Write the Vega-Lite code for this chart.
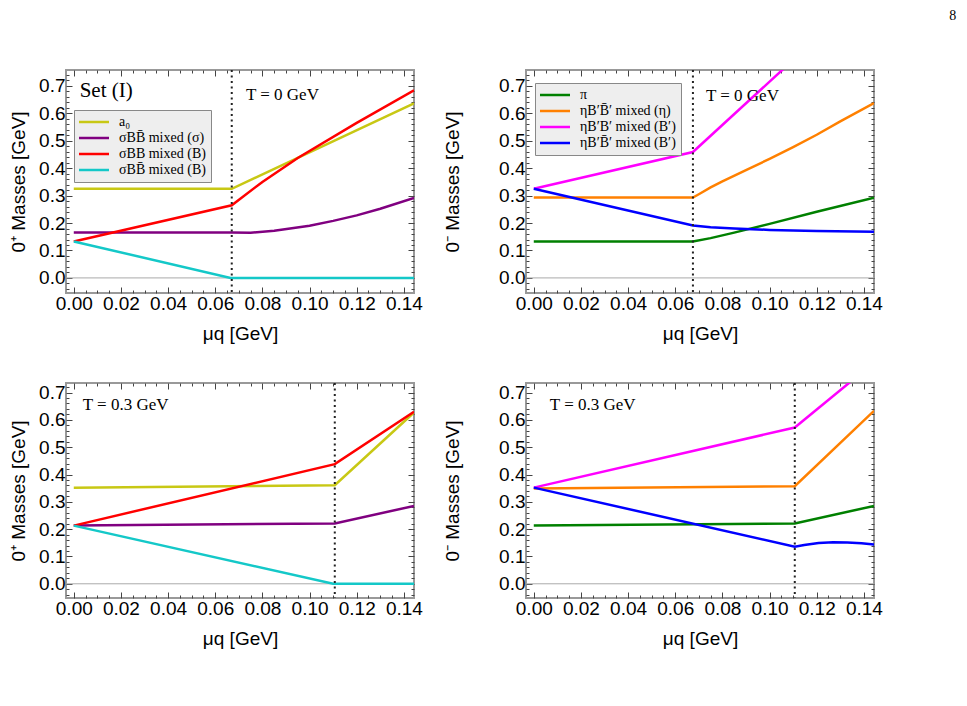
{
  "$schema": "https://vega.github.io/schema/vega-lite/v6.json",
  "padding": {"left": 8, "top": 8, "right": 5, "bottom": 5},
  "title": {"text": "8", "anchor": "end", "font": "Liberation Serif", "fontSize": 14, "fontWeight": "normal", "color": "#000000", "dx": 73, "offset": 42},
  "datasets": {
    "tl": [
      {"s": "a₀", "mu": 0, "m": 0.325}, {"s": "a₀", "mu": 0.067, "m": 0.325}, {"s": "a₀", "mu": 0.1443, "m": 0.636},
      {"s": "σBB̄ mixed (σ)", "mu": 0, "m": 0.166}, {"s": "σBB̄ mixed (σ)", "mu": 0.067, "m": 0.166}, {"s": "σBB̄ mixed (σ)", "mu": 0.075, "m": 0.165}, {"s": "σBB̄ mixed (σ)", "mu": 0.085, "m": 0.172}, {"s": "σBB̄ mixed (σ)", "mu": 0.1, "m": 0.19}, {"s": "σBB̄ mixed (σ)", "mu": 0.11, "m": 0.208}, {"s": "σBB̄ mixed (σ)", "mu": 0.12, "m": 0.228}, {"s": "σBB̄ mixed (σ)", "mu": 0.13, "m": 0.252}, {"s": "σBB̄ mixed (σ)", "mu": 0.1443, "m": 0.292},
      {"s": "σBB mixed (B)", "mu": 0, "m": 0.133}, {"s": "σBB mixed (B)", "mu": 0.067, "m": 0.265}, {"s": "σBB mixed (B)", "mu": 0.08, "m": 0.35}, {"s": "σBB mixed (B)", "mu": 0.095, "m": 0.437}, {"s": "σBB mixed (B)", "mu": 0.12, "m": 0.565}, {"s": "σBB mixed (B)", "mu": 0.1443, "m": 0.684},
      {"s": "σBB̄ mixed (B)", "mu": 0, "m": 0.133}, {"s": "σBB̄ mixed (B)", "mu": 0.0665, "m": 0}, {"s": "σBB̄ mixed (B)", "mu": 0.1443, "m": 0}
    ],
    "tr": [
      {"s": "π", "mu": 0, "m": 0.133}, {"s": "π", "mu": 0.0675, "m": 0.133}, {"s": "π", "mu": 0.075, "m": 0.145}, {"s": "π", "mu": 0.085, "m": 0.165}, {"s": "π", "mu": 0.1, "m": 0.197}, {"s": "π", "mu": 0.12, "m": 0.241}, {"s": "π", "mu": 0.1443, "m": 0.292},
      {"s": "ηB′B̄′ mixed (η)", "mu": 0, "m": 0.293}, {"s": "ηB′B̄′ mixed (η)", "mu": 0.0675, "m": 0.293}, {"s": "ηB′B̄′ mixed (η)", "mu": 0.07, "m": 0.305}, {"s": "ηB′B̄′ mixed (η)", "mu": 0.075, "m": 0.33}, {"s": "ηB′B̄′ mixed (η)", "mu": 0.08, "m": 0.352}, {"s": "ηB′B̄′ mixed (η)", "mu": 0.09, "m": 0.393}, {"s": "ηB′B̄′ mixed (η)", "mu": 0.1, "m": 0.434}, {"s": "ηB′B̄′ mixed (η)", "mu": 0.11, "m": 0.477}, {"s": "ηB′B̄′ mixed (η)", "mu": 0.12, "m": 0.522}, {"s": "ηB′B̄′ mixed (η)", "mu": 0.13, "m": 0.571}, {"s": "ηB′B̄′ mixed (η)", "mu": 0.1443, "m": 0.637},
      {"s": "ηB′B′ mixed (B′)", "mu": 0, "m": 0.325}, {"s": "ηB′B′ mixed (B′)", "mu": 0.0675, "m": 0.459}, {"s": "ηB′B′ mixed (B′)", "mu": 0.105, "m": 0.755}, {"s": "ηB′B′ mixed (B′)", "mu": 0.12, "m": 0.87},
      {"s": "ηB′B̄′ mixed (B′)", "mu": 0, "m": 0.325}, {"s": "ηB′B̄′ mixed (B′)", "mu": 0.0675, "m": 0.191}, {"s": "ηB′B̄′ mixed (B′)", "mu": 0.075, "m": 0.185}, {"s": "ηB′B̄′ mixed (B′)", "mu": 0.085, "m": 0.18}, {"s": "ηB′B̄′ mixed (B′)", "mu": 0.1, "m": 0.175}, {"s": "ηB′B̄′ mixed (B′)", "mu": 0.12, "m": 0.171}, {"s": "ηB′B̄′ mixed (B′)", "mu": 0.1443, "m": 0.168}
    ],
    "bl": [
      {"s": "a₀", "mu": 0, "m": 0.352}, {"s": "a₀", "mu": 0.1107, "m": 0.361}, {"s": "a₀", "mu": 0.1443, "m": 0.627},
      {"s": "σBB̄ mixed (σ)", "mu": 0, "m": 0.213}, {"s": "σBB̄ mixed (σ)", "mu": 0.1107, "m": 0.221}, {"s": "σBB̄ mixed (σ)", "mu": 0.1443, "m": 0.285},
      {"s": "σBB mixed (B)", "mu": 0, "m": 0.213}, {"s": "σBB mixed (B)", "mu": 0.1107, "m": 0.438}, {"s": "σBB mixed (B)", "mu": 0.1443, "m": 0.63},
      {"s": "σBB̄ mixed (B)", "mu": 0, "m": 0.213}, {"s": "σBB̄ mixed (B)", "mu": 0.11, "m": 0}, {"s": "σBB̄ mixed (B)", "mu": 0.1443, "m": 0}
    ],
    "br": [
      {"s": "π", "mu": 0, "m": 0.213}, {"s": "π", "mu": 0.1107, "m": 0.221}, {"s": "π", "mu": 0.1443, "m": 0.285},
      {"s": "ηB′B̄′ mixed (η)", "mu": 0, "m": 0.349}, {"s": "ηB′B̄′ mixed (η)", "mu": 0.1107, "m": 0.357}, {"s": "ηB′B̄′ mixed (η)", "mu": 0.1443, "m": 0.633},
      {"s": "ηB′B′ mixed (B′)", "mu": 0, "m": 0.352}, {"s": "ηB′B′ mixed (B′)", "mu": 0.1107, "m": 0.572}, {"s": "ηB′B′ mixed (B′)", "mu": 0.1443, "m": 0.81},
      {"s": "ηB′B̄′ mixed (B′)", "mu": 0, "m": 0.352}, {"s": "ηB′B̄′ mixed (B′)", "mu": 0.1107, "m": 0.136}, {"s": "ηB′B̄′ mixed (B′)", "mu": 0.1147, "m": 0.142}, {"s": "ηB′B̄′ mixed (B′)", "mu": 0.1208, "m": 0.149}, {"s": "ηB′B̄′ mixed (B′)", "mu": 0.127, "m": 0.152}, {"s": "ηB′B̄′ mixed (B′)", "mu": 0.133, "m": 0.151}, {"s": "ηB′B̄′ mixed (B′)", "mu": 0.139, "m": 0.148}, {"s": "ηB′B̄′ mixed (B′)", "mu": 0.1443, "m": 0.144}
    ]
  },
  "columns": 2,
  "spacing": {"row": 90, "column": 112},
  "bounds": "flush",
  "resolve": {"scale": {"x": "independent", "y": "independent", "color": "independent"}, "legend": {"color": "independent"}},
  "concat": [
    {
      "width": 348, "height": 223,
      "resolve": {"axis": {"x": "independent", "y": "independent"}},
      "layer": [
        {
          "data": {"values": [{"z": 0}]},
          "mark": {"type": "rule", "color": "#aaaaaa", "strokeWidth": 1},
          "encoding": {"y": {"field": "z", "type": "quantitative", "scale": {"domain": [-0.055, 0.758], "nice": false, "zero": false},
            "axis": {"orient": "right", "labels": false, "title": null, "values": [-0.04,-0.02,0,0.02,0.04,0.06,0.08,0.1,0.12,0.14,0.16,0.18,0.2,0.22,0.24,0.26,0.28,0.3,0.32,0.34,0.36,0.38,0.4,0.42,0.44,0.46,0.48,0.5,0.52,0.54,0.56,0.58,0.6,0.62,0.64,0.66,0.68,0.7,0.72,0.74],
              "tickSize": {"condition": {"test": "abs(datum.value*10 - round(datum.value*10)) < 0.001", "value": -6}, "value": -3}}}}
        },
        {
          "data": {"name": "tl"},
          "mark": {"type": "line", "strokeWidth": 2.5, "clip": true},
          "encoding": {
            "x": {"field": "mu", "type": "quantitative", "scale": {"domain": [-0.0033, 0.1443], "nice": false, "zero": false},
              "axis": {"orient": "bottom", "title": "μq [GeV]", "values": [0,0.005,0.01,0.015,0.02,0.025,0.03,0.035,0.04,0.045,0.05,0.055,0.06,0.065,0.07,0.075,0.08,0.085,0.09,0.095,0.1,0.105,0.11,0.115,0.12,0.125,0.13,0.135,0.14],
                "labelExpr": "abs(datum.value*50 - round(datum.value*50)) < 0.001 ? format(datum.value, '.2f') : ''",
                "tickSize": {"condition": {"test": "abs(datum.value*50 - round(datum.value*50)) < 0.001", "value": -6}, "value": -3}}},
            "y": {"field": "m", "type": "quantitative", "scale": {"domain": [-0.055, 0.758], "nice": false, "zero": false},
              "axis": {"orient": "left", "title": "0⁺ Masses [GeV]", "titlePadding": 10, "values": [-0.04,-0.02,0,0.02,0.04,0.06,0.08,0.1,0.12,0.14,0.16,0.18,0.2,0.22,0.24,0.26,0.28,0.3,0.32,0.34,0.36,0.38,0.4,0.42,0.44,0.46,0.48,0.5,0.52,0.54,0.56,0.58,0.6,0.62,0.64,0.66,0.68,0.7,0.72,0.74],
                "labelExpr": "abs(datum.value*10 - round(datum.value*10)) < 0.001 && datum.value >= 0 ? format(datum.value, '.1f') : ''",
                "tickSize": {"condition": {"test": "abs(datum.value*10 - round(datum.value*10)) < 0.001", "value": -6}, "value": -3}}},
            "color": {"field": "s", "type": "nominal",
              "scale": {"domain": ["a₀", "σBB̄ mixed (σ)", "σBB mixed (B)", "σBB̄ mixed (B)"], "range": ["#c8c814", "#800080", "#ff0000", "#14c8c8"]},
              "legend": {"orient": "none", "legendX": 8, "legendY": 40}}
          }
        },
        {
          "data": {"values": [{"c": 0.067}]},
          "mark": {"type": "rule", "color": "#222222", "strokeWidth": 2, "strokeDash": [2, 3.5]},
          "encoding": {"x": {"field": "c", "type": "quantitative", "scale": {"domain": [-0.0033, 0.1443], "nice": false, "zero": false},
            "axis": {"orient": "top", "labels": false, "title": null, "values": [0,0.005,0.01,0.015,0.02,0.025,0.03,0.035,0.04,0.045,0.05,0.055,0.06,0.065,0.07,0.075,0.08,0.085,0.09,0.095,0.1,0.105,0.11,0.115,0.12,0.125,0.13,0.135,0.14],
              "tickSize": {"condition": {"test": "abs(datum.value*50 - round(datum.value*50)) < 0.001", "value": -6}, "value": -3}}}}
        },
        {
          "data": {"values": [{"x": 0.0025, "y": 0.68, "t": "Set (I)"}]},
          "mark": {"type": "text", "align": "left", "baseline": "middle", "font": "Liberation Serif", "fontSize": 21},
          "encoding": {"x": {"field": "x", "type": "quantitative", "axis": null}, "y": {"field": "y", "type": "quantitative", "axis": null}, "text": {"field": "t"}}
        },
        {
          "data": {"values": [{"x": 0.073, "y": 0.667, "t": "T = 0 GeV"}]},
          "mark": {"type": "text", "align": "left", "baseline": "middle", "font": "Liberation Serif", "fontSize": 17},
          "encoding": {"x": {"field": "x", "type": "quantitative", "axis": null}, "y": {"field": "y", "type": "quantitative", "axis": null}, "text": {"field": "t"}}
        }
      ]
    },
    {
      "width": 348, "height": 223,
      "resolve": {"axis": {"x": "independent", "y": "independent"}},
      "layer": [
        {
          "data": {"values": [{"z": 0}]},
          "mark": {"type": "rule", "color": "#aaaaaa", "strokeWidth": 1},
          "encoding": {"y": {"field": "z", "type": "quantitative", "scale": {"domain": [-0.055, 0.758], "nice": false, "zero": false},
            "axis": {"orient": "right", "labels": false, "title": null, "values": [-0.04,-0.02,0,0.02,0.04,0.06,0.08,0.1,0.12,0.14,0.16,0.18,0.2,0.22,0.24,0.26,0.28,0.3,0.32,0.34,0.36,0.38,0.4,0.42,0.44,0.46,0.48,0.5,0.52,0.54,0.56,0.58,0.6,0.62,0.64,0.66,0.68,0.7,0.72,0.74],
              "tickSize": {"condition": {"test": "abs(datum.value*10 - round(datum.value*10)) < 0.001", "value": -6}, "value": -3}}}}
        },
        {
          "data": {"name": "tr"},
          "mark": {"type": "line", "strokeWidth": 2.5, "clip": true},
          "encoding": {
            "x": {"field": "mu", "type": "quantitative", "scale": {"domain": [-0.0033, 0.1443], "nice": false, "zero": false},
              "axis": {"orient": "bottom", "title": "μq [GeV]", "values": [0,0.005,0.01,0.015,0.02,0.025,0.03,0.035,0.04,0.045,0.05,0.055,0.06,0.065,0.07,0.075,0.08,0.085,0.09,0.095,0.1,0.105,0.11,0.115,0.12,0.125,0.13,0.135,0.14],
                "labelExpr": "abs(datum.value*50 - round(datum.value*50)) < 0.001 ? format(datum.value, '.2f') : ''",
                "tickSize": {"condition": {"test": "abs(datum.value*50 - round(datum.value*50)) < 0.001", "value": -6}, "value": -3}}},
            "y": {"field": "m", "type": "quantitative", "scale": {"domain": [-0.055, 0.758], "nice": false, "zero": false},
              "axis": {"orient": "left", "title": "0⁻ Masses  [GeV]", "titlePadding": 36, "values": [-0.04,-0.02,0,0.02,0.04,0.06,0.08,0.1,0.12,0.14,0.16,0.18,0.2,0.22,0.24,0.26,0.28,0.3,0.32,0.34,0.36,0.38,0.4,0.42,0.44,0.46,0.48,0.5,0.52,0.54,0.56,0.58,0.6,0.62,0.64,0.66,0.68,0.7,0.72,0.74],
                "labelExpr": "abs(datum.value*10 - round(datum.value*10)) < 0.001 && datum.value >= 0 ? format(datum.value, '.1f') : ''",
                "tickSize": {"condition": {"test": "abs(datum.value*10 - round(datum.value*10)) < 0.001", "value": -6}, "value": -3}}},
            "color": {"field": "s", "type": "nominal",
              "scale": {"domain": ["π", "ηB′B̄′ mixed (η)", "ηB′B′ mixed (B′)", "ηB′B̄′ mixed (B′)"], "range": ["#008000", "#ff8000", "#ff00ff", "#0000ff"]},
              "legend": {"orient": "none", "legendX": 9, "legendY": 13}}
          }
        },
        {
          "data": {"values": [{"c": 0.0675}]},
          "mark": {"type": "rule", "color": "#222222", "strokeWidth": 2, "strokeDash": [2, 3.5]},
          "encoding": {"x": {"field": "c", "type": "quantitative", "scale": {"domain": [-0.0033, 0.1443], "nice": false, "zero": false},
            "axis": {"orient": "top", "labels": false, "title": null, "values": [0,0.005,0.01,0.015,0.02,0.025,0.03,0.035,0.04,0.045,0.05,0.055,0.06,0.065,0.07,0.075,0.08,0.085,0.09,0.095,0.1,0.105,0.11,0.115,0.12,0.125,0.13,0.135,0.14],
              "tickSize": {"condition": {"test": "abs(datum.value*50 - round(datum.value*50)) < 0.001", "value": -6}, "value": -3}}}}
        },
        {
          "data": {"values": [{"x": 0.073, "y": 0.664, "t": "T = 0 GeV"}]},
          "mark": {"type": "text", "align": "left", "baseline": "middle", "font": "Liberation Serif", "fontSize": 17},
          "encoding": {"x": {"field": "x", "type": "quantitative", "axis": null}, "y": {"field": "y", "type": "quantitative", "axis": null}, "text": {"field": "t"}}
        }
      ]
    },
    {
      "width": 348, "height": 215,
      "resolve": {"axis": {"x": "independent", "y": "independent"}},
      "layer": [
        {
          "data": {"values": [{"z": 0}]},
          "mark": {"type": "rule", "color": "#aaaaaa", "strokeWidth": 1},
          "encoding": {"y": {"field": "z", "type": "quantitative", "scale": {"domain": [-0.052, 0.735], "nice": false, "zero": false},
            "axis": {"orient": "right", "labels": false, "title": null, "values": [-0.04,-0.02,0,0.02,0.04,0.06,0.08,0.1,0.12,0.14,0.16,0.18,0.2,0.22,0.24,0.26,0.28,0.3,0.32,0.34,0.36,0.38,0.4,0.42,0.44,0.46,0.48,0.5,0.52,0.54,0.56,0.58,0.6,0.62,0.64,0.66,0.68,0.7,0.72],
              "tickSize": {"condition": {"test": "abs(datum.value*10 - round(datum.value*10)) < 0.001", "value": -6}, "value": -3}}}}
        },
        {
          "data": {"name": "bl"},
          "mark": {"type": "line", "strokeWidth": 2.5, "clip": true},
          "encoding": {
            "x": {"field": "mu", "type": "quantitative", "scale": {"domain": [-0.0033, 0.1443], "nice": false, "zero": false},
              "axis": {"orient": "bottom", "title": "μq [GeV]", "values": [0,0.005,0.01,0.015,0.02,0.025,0.03,0.035,0.04,0.045,0.05,0.055,0.06,0.065,0.07,0.075,0.08,0.085,0.09,0.095,0.1,0.105,0.11,0.115,0.12,0.125,0.13,0.135,0.14],
                "labelExpr": "abs(datum.value*50 - round(datum.value*50)) < 0.001 ? format(datum.value, '.2f') : ''",
                "tickSize": {"condition": {"test": "abs(datum.value*50 - round(datum.value*50)) < 0.001", "value": -6}, "value": -3}}},
            "y": {"field": "m", "type": "quantitative", "scale": {"domain": [-0.052, 0.735], "nice": false, "zero": false},
              "axis": {"orient": "left", "title": "0⁺ Masses [GeV]", "titlePadding": 10, "values": [-0.04,-0.02,0,0.02,0.04,0.06,0.08,0.1,0.12,0.14,0.16,0.18,0.2,0.22,0.24,0.26,0.28,0.3,0.32,0.34,0.36,0.38,0.4,0.42,0.44,0.46,0.48,0.5,0.52,0.54,0.56,0.58,0.6,0.62,0.64,0.66,0.68,0.7,0.72],
                "labelExpr": "abs(datum.value*10 - round(datum.value*10)) < 0.001 && datum.value >= 0 ? format(datum.value, '.1f') : ''",
                "tickSize": {"condition": {"test": "abs(datum.value*10 - round(datum.value*10)) < 0.001", "value": -6}, "value": -3}}},
            "color": {"field": "s", "type": "nominal",
              "scale": {"domain": ["a₀", "σBB̄ mixed (σ)", "σBB mixed (B)", "σBB̄ mixed (B)"], "range": ["#c8c814", "#800080", "#ff0000", "#14c8c8"]},
              "legend": null}
          }
        },
        {
          "data": {"values": [{"c": 0.1107}]},
          "mark": {"type": "rule", "color": "#222222", "strokeWidth": 2, "strokeDash": [2, 3.5]},
          "encoding": {"x": {"field": "c", "type": "quantitative", "scale": {"domain": [-0.0033, 0.1443], "nice": false, "zero": false},
            "axis": {"orient": "top", "labels": false, "title": null, "values": [0,0.005,0.01,0.015,0.02,0.025,0.03,0.035,0.04,0.045,0.05,0.055,0.06,0.065,0.07,0.075,0.08,0.085,0.09,0.095,0.1,0.105,0.11,0.115,0.12,0.125,0.13,0.135,0.14],
              "tickSize": {"condition": {"test": "abs(datum.value*50 - round(datum.value*50)) < 0.001", "value": -6}, "value": -3}}}}
        },
        {
          "data": {"values": [{"x": 0.0038, "y": 0.655, "t": "T = 0.3 GeV"}]},
          "mark": {"type": "text", "align": "left", "baseline": "middle", "font": "Liberation Serif", "fontSize": 17},
          "encoding": {"x": {"field": "x", "type": "quantitative", "axis": null}, "y": {"field": "y", "type": "quantitative", "axis": null}, "text": {"field": "t"}}
        }
      ]
    },
    {
      "width": 348, "height": 215,
      "resolve": {"axis": {"x": "independent", "y": "independent"}},
      "layer": [
        {
          "data": {"values": [{"z": 0}]},
          "mark": {"type": "rule", "color": "#aaaaaa", "strokeWidth": 1},
          "encoding": {"y": {"field": "z", "type": "quantitative", "scale": {"domain": [-0.052, 0.735], "nice": false, "zero": false},
            "axis": {"orient": "right", "labels": false, "title": null, "values": [-0.04,-0.02,0,0.02,0.04,0.06,0.08,0.1,0.12,0.14,0.16,0.18,0.2,0.22,0.24,0.26,0.28,0.3,0.32,0.34,0.36,0.38,0.4,0.42,0.44,0.46,0.48,0.5,0.52,0.54,0.56,0.58,0.6,0.62,0.64,0.66,0.68,0.7,0.72],
              "tickSize": {"condition": {"test": "abs(datum.value*10 - round(datum.value*10)) < 0.001", "value": -6}, "value": -3}}}}
        },
        {
          "data": {"name": "br"},
          "mark": {"type": "line", "strokeWidth": 2.5, "clip": true},
          "encoding": {
            "x": {"field": "mu", "type": "quantitative", "scale": {"domain": [-0.0033, 0.1443], "nice": false, "zero": false},
              "axis": {"orient": "bottom", "title": "μq [GeV]", "values": [0,0.005,0.01,0.015,0.02,0.025,0.03,0.035,0.04,0.045,0.05,0.055,0.06,0.065,0.07,0.075,0.08,0.085,0.09,0.095,0.1,0.105,0.11,0.115,0.12,0.125,0.13,0.135,0.14],
                "labelExpr": "abs(datum.value*50 - round(datum.value*50)) < 0.001 ? format(datum.value, '.2f') : ''",
                "tickSize": {"condition": {"test": "abs(datum.value*50 - round(datum.value*50)) < 0.001", "value": -6}, "value": -3}}},
            "y": {"field": "m", "type": "quantitative", "scale": {"domain": [-0.052, 0.735], "nice": false, "zero": false},
              "axis": {"orient": "left", "title": "0⁻ Masses  [GeV]", "titlePadding": 36, "values": [-0.04,-0.02,0,0.02,0.04,0.06,0.08,0.1,0.12,0.14,0.16,0.18,0.2,0.22,0.24,0.26,0.28,0.3,0.32,0.34,0.36,0.38,0.4,0.42,0.44,0.46,0.48,0.5,0.52,0.54,0.56,0.58,0.6,0.62,0.64,0.66,0.68,0.7,0.72],
                "labelExpr": "abs(datum.value*10 - round(datum.value*10)) < 0.001 && datum.value >= 0 ? format(datum.value, '.1f') : ''",
                "tickSize": {"condition": {"test": "abs(datum.value*10 - round(datum.value*10)) < 0.001", "value": -6}, "value": -3}}},
            "color": {"field": "s", "type": "nominal",
              "scale": {"domain": ["π", "ηB′B̄′ mixed (η)", "ηB′B′ mixed (B′)", "ηB′B̄′ mixed (B′)"], "range": ["#008000", "#ff8000", "#ff00ff", "#0000ff"]},
              "legend": null}
          }
        },
        {
          "data": {"values": [{"c": 0.1107}]},
          "mark": {"type": "rule", "color": "#222222", "strokeWidth": 2, "strokeDash": [2, 3.5]},
          "encoding": {"x": {"field": "c", "type": "quantitative", "scale": {"domain": [-0.0033, 0.1443], "nice": false, "zero": false},
            "axis": {"orient": "top", "labels": false, "title": null, "values": [0,0.005,0.01,0.015,0.02,0.025,0.03,0.035,0.04,0.045,0.05,0.055,0.06,0.065,0.07,0.075,0.08,0.085,0.09,0.095,0.1,0.105,0.11,0.115,0.12,0.125,0.13,0.135,0.14],
              "tickSize": {"condition": {"test": "abs(datum.value*50 - round(datum.value*50)) < 0.001", "value": -6}, "value": -3}}}}
        },
        {
          "data": {"values": [{"x": 0.0068, "y": 0.655, "t": "T = 0.3 GeV"}]},
          "mark": {"type": "text", "align": "left", "baseline": "middle", "font": "Liberation Serif", "fontSize": 17},
          "encoding": {"x": {"field": "x", "type": "quantitative", "axis": null}, "y": {"field": "y", "type": "quantitative", "axis": null}, "text": {"field": "t"}}
        }
      ]
    }
  ],
  "config": {
    "view": {"stroke": "#999999", "strokeWidth": 2},
    "axis": {
      "domain": false, "grid": false,
      "labelFont": "Liberation Sans", "labelFontSize": 19, "labelColor": "#000000", "labelPadding": 7,
      "labelOverlap": false, "labelFlush": false, "labelBound": false,
      "titleFont": "Liberation Sans", "titleFontSize": 19, "titleFontWeight": "normal", "titleColor": "#000000", "titlePadding": 8,
      "tickColor": "#444444", "tickWidth": 1
    },
    "legend": {
      "title": null, "fillColor": "#eeeeee", "strokeColor": "#888888", "padding": 5,
      "symbolType": "M-3,0H3", "symbolSize": 100, "symbolStrokeWidth": 2.5, "symbolOffset": 8,
      "labelFont": "Liberation Serif", "labelFontSize": 14, "labelColor": "#000000", "labelOffset": 18, "rowPadding": 2
    }
  }
}
